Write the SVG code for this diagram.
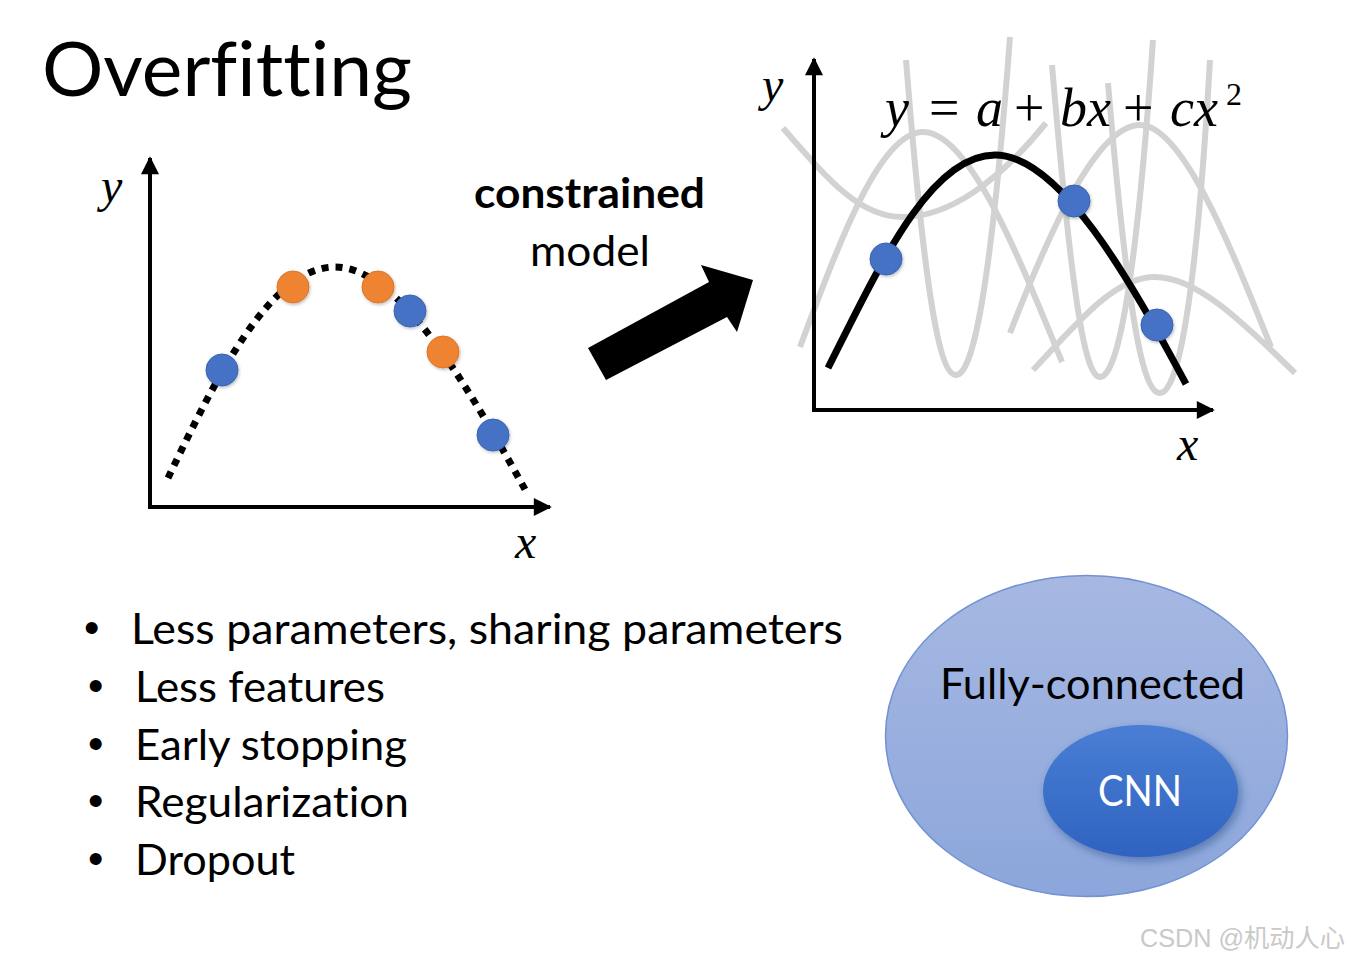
<svg xmlns="http://www.w3.org/2000/svg" width="1351" height="961" viewBox="0 0 1351 961">
<defs>
<style>
.cal{font-family:Lato,"Open Sans","Liberation Sans",sans-serif;fill:#000;font-variant-ligatures:none}
.math{font-family:"Liberation Serif","DejaVu Serif",serif;font-style:italic;fill:#000}
.mathu{font-family:"Liberation Serif","DejaVu Serif",serif;font-style:normal;fill:#000}
.axis{stroke:#000;stroke-width:4;fill:none}
.grey{stroke:#d2d2d2;stroke-width:6;fill:none}
.blue{fill:#4472c4;stroke:#3b63ad;stroke-width:1}
.orange{fill:#ee8332;stroke:#d9742a;stroke-width:1}
.bul{font-family:"Liberation Sans",sans-serif;font-size:44px;fill:#000}
</style>
<marker id="ah" viewBox="0 0 10 10" refX="9" refY="5" markerWidth="5.5" markerHeight="4.5" orient="auto" markerUnits="strokeWidth">
<path d="M0,0 L10,5 L0,10 z" fill="#000"/>
</marker>
<linearGradient id="gOuter" x1="0" y1="0" x2="0" y2="1">
<stop offset="0" stop-color="#a6b8e2"/>
<stop offset="1" stop-color="#8ca6db"/>
</linearGradient>
<linearGradient id="gInner" x1="0" y1="0" x2="0" y2="1">
<stop offset="0" stop-color="#4a7ed4"/>
<stop offset="1" stop-color="#2f63c1"/>
</linearGradient>
<filter id="sh" x="-30%" y="-30%" width="160%" height="160%">
<feDropShadow dx="3" dy="4" stdDeviation="4" flood-color="#1f3f80" flood-opacity="0.45"/>
</filter>
<filter id="dsh" x="-50%" y="-50%" width="200%" height="200%">
<feDropShadow dx="1" dy="1.5" stdDeviation="1.5" flood-color="#000" flood-opacity="0.25"/>
</filter>
</defs>
<rect x="0" y="0" width="1351" height="961" fill="#fff"/>

<g id="title">
<text class="cal" x="42" y="96" font-size="76" textLength="370" lengthAdjust="spacingAndGlyphs">Overfitting</text>
</g>

<g id="left-graph">
<line class="axis" x1="150" y1="509" x2="150" y2="158" marker-end="url(#ah)"/>
<line class="axis" x1="148" y1="507" x2="550" y2="507" marker-end="url(#ah)"/>
<path d="M168,478 C215,380 270,267 335,267 C400,267 470,390 527,493" fill="none" stroke="#000" stroke-width="7" stroke-dasharray="7 7"/>
<g filter="url(#dsh)">
<circle class="blue" cx="222" cy="370" r="16"/>
<circle class="orange" cx="293" cy="287" r="16"/>
<circle class="orange" cx="378" cy="287" r="16"/>
<circle class="blue" cx="410" cy="311" r="16"/>
<circle class="orange" cx="443" cy="352" r="16"/>
<circle class="blue" cx="493" cy="435" r="16"/>
</g>
<text class="math" x="101" y="202" font-size="48">y</text>
<text class="math" x="515" y="558" font-size="48">x</text>
</g>

<g id="label-constrained">
<text class="cal" x="589.5" y="208" font-size="42" font-weight="bold" text-anchor="middle" textLength="231" lengthAdjust="spacingAndGlyphs">constrained</text>
<text class="cal" x="590" y="266" font-size="42" text-anchor="middle" textLength="120" lengthAdjust="spacingAndGlyphs">model</text>
</g>

<g id="connectors">
<polygon points="588,348 709,282 701,265 753,280 737,332 727,317 606,380" fill="#000"/>
</g>

<g id="right-graph">
<path class="grey" d="M783,128 C830,182 860,217 903,217 C950,217 1000,180 1046,123"/>
<path class="grey" d="M800,347 C840,240 880,132 923,132 C970,132 1020,260 1062,362"/>
<path class="grey" d="M906,60 C925,300 940,375 956,375 C972,375 990,300 1010,37"/>
<path class="grey" d="M1052,65 C1072,300 1085,377 1100,377 C1116,377 1135,300 1153,40"/>
<path class="grey" d="M1108,83 C1128,320 1143,393 1160,393 C1176,393 1195,320 1210,60"/>
<path class="grey" d="M1010,333 C1050,230 1097,125 1140,125 C1183,125 1232,250 1271,347"/>
<path class="grey" d="M1033,370 C1080,320 1115,277 1155,277 C1200,277 1250,330 1295,373"/>
<line class="axis" x1="814" y1="412" x2="814" y2="59" marker-end="url(#ah)"/>
<line class="axis" x1="812" y1="410" x2="1213" y2="410" marker-end="url(#ah)"/>
<path d="M828,368 C880,265 930,155 995,155 C1060,155 1130,280 1186,384" fill="none" stroke="#000" stroke-width="7"/>
<g filter="url(#dsh)">
<circle class="blue" cx="886" cy="259" r="16"/>
<circle class="blue" cx="1074" cy="201" r="16"/>
<circle class="blue" cx="1157" cy="325" r="16"/>
</g>
<text class="math" x="762" y="101" font-size="48">y</text>
<text class="math" x="1177" y="460" font-size="48">x</text>
<text font-size="54"><tspan class="math" x="885" y="126">y</tspan><tspan class="mathu" x="929" y="126">=</tspan><tspan class="math" x="976" y="126">a</tspan><tspan class="mathu" x="1014" y="126">+</tspan><tspan class="math" x="1060" y="126">bx</tspan><tspan class="mathu" x="1123" y="126">+</tspan><tspan class="math" x="1170" y="126">cx</tspan><tspan class="mathu" x="1226" y="105" font-size="32">2</tspan></text>
</g>

<g id="bullets">
<text class="bul" x="84" y="643">•</text>
<text class="cal" x="131" y="644" font-size="42" textLength="712" lengthAdjust="spacingAndGlyphs">Less parameters, sharing parameters</text>
<text class="bul" x="88" y="701">•</text>
<text class="cal" x="135" y="702" font-size="42" textLength="250" lengthAdjust="spacingAndGlyphs">Less features</text>
<text class="bul" x="88" y="759">•</text>
<text class="cal" x="135" y="760" font-size="42" textLength="272" lengthAdjust="spacingAndGlyphs">Early stopping</text>
<text class="bul" x="88" y="816">•</text>
<text class="cal" x="135" y="817" font-size="42" textLength="274" lengthAdjust="spacingAndGlyphs">Regularization</text>
<text class="bul" x="88" y="874">•</text>
<text class="cal" x="135" y="875" font-size="42" textLength="160" lengthAdjust="spacingAndGlyphs">Dropout</text>
</g>

<g id="node-fully-connected">
<ellipse cx="1086.5" cy="736" rx="201" ry="160.5" fill="url(#gOuter)" stroke="#7392d2" stroke-width="1.5"/>
<text class="cal" x="1092.5" y="699" font-size="42" text-anchor="middle" textLength="305" lengthAdjust="spacingAndGlyphs">Fully-connected</text>
</g>

<g id="node-cnn">
<ellipse cx="1140.5" cy="791" rx="97.5" ry="66" fill="url(#gInner)" filter="url(#sh)"/>
<text class="cal" x="1140" y="806" font-size="42" text-anchor="middle" style="fill:#fff" textLength="84" lengthAdjust="spacingAndGlyphs">CNN</text>
</g>

<g id="watermark">
<text x="1140" y="947" font-family="'Liberation Sans','Noto Sans CJK SC',sans-serif" font-size="25" fill="#c9c9c9" textLength="205" lengthAdjust="spacingAndGlyphs">CSDN @机动人心</text>
</g>
</svg>
